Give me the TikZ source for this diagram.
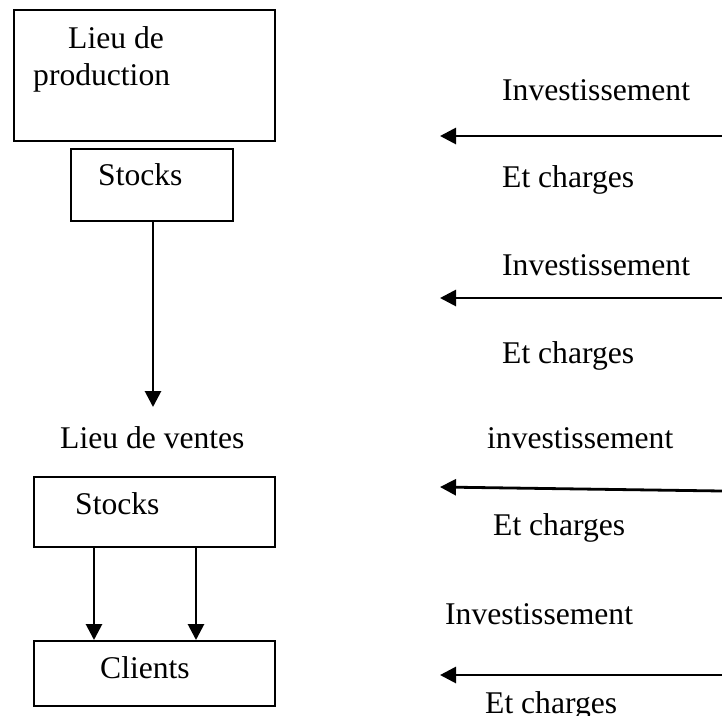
\documentclass[tikz,border=0pt]{standalone}
\usepackage{fontspec}
\setmainfont{Liberation Serif}
\usetikzlibrary{arrows.meta}
\begin{document}
\begin{tikzpicture}[x=1pt,y=-1pt,
  box/.style={draw,line width=2pt,rectangle,inner sep=0pt,anchor=north west},
  lbl/.style={inner sep=0pt,anchor=base west,font=\fontsize{31.6}{38}\selectfont},
  arr/.style={line width=2.8pt,-{Triangle[length=16pt,width=16pt]}}]
\useasboundingbox (0,0) rectangle (722,715);

% left column: boxes
\node[box,minimum width=261pt,minimum height=131pt] (prod) at (13,9) {};
\node[box,minimum width=162pt,minimum height=72pt] (stockA) at (70,148) {};
\node[box,minimum width=241pt,minimum height=70pt] (stockB) at (33,476) {};
\node[box,minimum width=241pt,minimum height=65pt] (clients) at (33,640) {};

% left column: texts
\node[lbl] (tprodA) at (68,48) {Lieu de};
\node[lbl] (tprodB) at (33,85) {production};
\node[lbl] (tstockA) at (98,185) {Stocks};
\node[lbl] (tventes) at (60,448) {Lieu de ventes};
\node[lbl] (tstockB) at (75,514) {Stocks};
\node[lbl] (tclients) at (100,678) {Clients};

% left column: connectors
\coordinate (vtip) at (153,407);
\draw[arr] (vtip |- stockA.south) -- (vtip);
\coordinate (colA) at (94,0);
\coordinate (colB) at (196,0);
\draw[arr] (colA |- stockB.south) -- (colA |- clients.north);
\draw[arr] (colB |- stockB.south) -- (colB |- clients.north);

% right column: texts
\node[lbl] (inv1) at (502,100) {Investissement};
\node[lbl] (ch1) at (502,187) {Et charges};
\node[lbl] (inv2) at (502,275) {Investissement};
\node[lbl] (ch2) at (502,363) {Et charges};
\node[lbl] (inv3) at (487,448) {investissement};
\node[lbl] (ch3) at (493,535) {Et charges};
\node[lbl] (inv4) at (445,624) {Investissement};
\node[lbl] (ch4) at (485,713) {Et charges};

% right column: arrows
\coordinate (r1) at (722,136); \coordinate (l1) at (440,136);
\coordinate (r2) at (722,298); \coordinate (l2) at (440,298);
\coordinate (r3) at (722,491); \coordinate (l3) at (440,487);
\coordinate (r4) at (722,675); \coordinate (l4) at (440,675);
\draw[arr] (r1) -- (l1);
\draw[arr] (r2) -- (l2);
\draw[arr] (r3) -- (l3);
\draw[arr] (r4) -- (l4);
\end{tikzpicture}
\end{document}
